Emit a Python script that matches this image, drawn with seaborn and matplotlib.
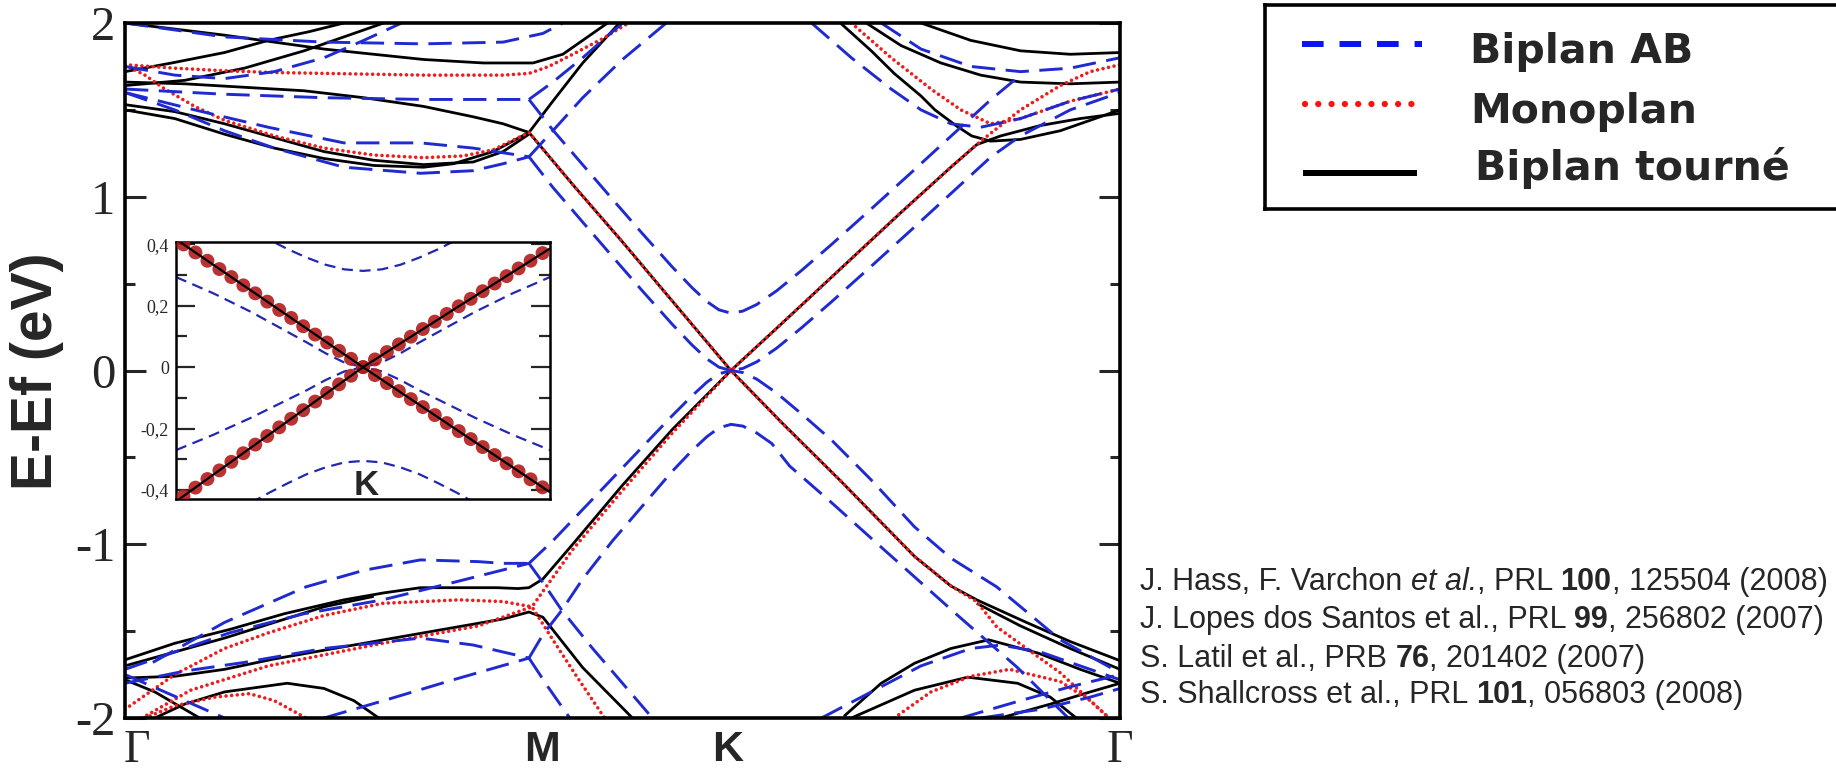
import numpy as np
import pandas as pd
import matplotlib
matplotlib.use("Agg")
import matplotlib.pyplot as plt
from matplotlib.ticker import FixedLocator, MultipleLocator
import seaborn as sns

sns.set_theme(style="white")
plt.rcParams['font.family'] = ['DejaVu Sans']

W, H = 1836, 772

# ---------------- path / ticks ----------------
K_TICKS = [0.012, 0.419, 0.606, 1.0]
K_LABELS = ["Γ", "M", "K", "Γ"]
Y_TICKS = [-2, -1, 0, 1, 2]

# ---------------- Biplan tourné (black) ----------------
tw_c1 = ([0, 0.06, 0.12, 0.18, 0.24, 0.30, 0.35, 0.38, 0.406, 0.45, 0.5, 0.55, 0.609, 0.66, 0.72, 0.78, 0.83, 0.856, 0.88, 0.92, 0.96, 1.0],
         [1.66, 1.65, 1.63, 1.61, 1.57, 1.52, 1.46, 1.42, 1.37, 1.07, 0.74, 0.40, 0.0, 0.27, 0.59, 0.91, 1.17, 1.30, 1.35, 1.41, 1.45, 1.48])
tw_c2 = ([0, 0.05, 0.1, 0.15, 0.2, 0.25, 0.3, 0.33, 0.37, 0.406, 0.43, 0.46, 0.497],
         [1.50, 1.45, 1.36, 1.28, 1.22, 1.18, 1.17, 1.19, 1.26, 1.37, 1.55, 1.77, 2.0])
tw_c3 = ([0, 0.05, 0.1, 0.15, 0.2, 0.25, 0.3, 0.35, 0.38, 0.406],
         [1.53, 1.49, 1.42, 1.34, 1.26, 1.21, 1.185, 1.2, 1.26, 1.36])
tw_c4 = ([0, 0.1, 0.2, 0.3, 0.36, 0.41, 0.44, 0.46, 0.485],
         [2.0, 1.93, 1.85, 1.79, 1.77, 1.77, 1.82, 1.9, 2.0])
tw_c5 = ([0, 0.06, 0.12, 0.18, 0.22, 0.26],
         [1.64, 1.67, 1.74, 1.84, 1.92, 2.0])
tw_c6 = ([0, 0.047, 0.1, 0.144, 0.185, 0.22],
         [1.72, 1.77, 1.83, 1.90, 1.95, 2.0])
tw_v1 = ([0, 0.05, 0.1055, 0.16, 0.22, 0.26, 0.297, 0.34, 0.374, 0.395, 0.406, 0.42, 0.45, 0.5, 0.55, 0.609, 0.66, 0.72, 0.7935, 0.83, 0.856, 0.906, 0.95, 1.0],
         [-1.665, -1.57, -1.49, -1.40, -1.32, -1.28, -1.25, -1.25, -1.25, -1.255, -1.25, -1.2, -1.0, -0.66, -0.34, 0.0, -0.3, -0.64, -1.07, -1.24, -1.32, -1.45, -1.56, -1.67])
tw_v2 = ([0, 0.05, 0.1, 0.15, 0.2, 0.26, 0.3, 0.35, 0.38, 0.406, 0.42, 0.46, 0.51],
         [-1.77, -1.76, -1.72, -1.66, -1.61, -1.55, -1.51, -1.46, -1.43, -1.39, -1.42, -1.71, -2.0])
tw_v3 = ([0, 0.05, 0.1, 0.15, 0.2, 0.25],
         [-1.70, -1.62, -1.54, -1.45, -1.36, -1.30])
tw_v4 = ([0, 0.03, 0.06, 0.075], [-1.78, -1.85, -1.95, -2.0])
tw_arch_l = ([0.03, 0.06, 0.1, 0.163, 0.2, 0.23, 0.255],
             [-2.0, -1.92, -1.85, -1.80, -1.83, -1.9, -2.0])
tw_v_r2 = ([0.856, 0.9, 0.95, 1.0], [-1.34, -1.47, -1.6, -1.72])
tw_arch_r1 = ([0.7226, 0.76, 0.7935, 0.83, 0.868, 0.918, 0.96, 1.0],
              [-1.99, -1.8, -1.685, -1.6, -1.55, -1.627, -1.72, -1.8])
tw_arch_r2 = ([0.73, 0.7935, 0.847, 0.897, 0.93, 0.956],
              [-2.0, -1.84, -1.765, -1.80, -1.88, -2.0])
tw_rise_r = ([0.88, 0.93, 0.97, 1.0], [-2.0, -1.92, -1.85, -1.8])
tw_ur1 = ([0.719, 0.75, 0.773, 0.8, 0.814, 0.835, 0.851, 0.87, 0.9, 0.94, 0.97, 1.0],
          [2.0, 1.84, 1.71, 1.58, 1.50, 1.41, 1.35, 1.32, 1.33, 1.38, 1.44, 1.50])
tw_ur2 = ([0.745, 0.78, 0.82, 0.86, 0.9, 0.95, 1.0],
          [2.0, 1.87, 1.77, 1.70, 1.66, 1.65, 1.66])
tw_ur3 = ([0.8, 0.85, 0.9, 0.95, 1.0], [2.0, 1.9, 1.84, 1.82, 1.83])

# ---------------- Monoplan (red) ----------------
mo_c1 = ([0, 0.05, 0.1, 0.15, 0.2, 0.25, 0.3, 0.35, 0.38, 0.406, 0.426, 0.45, 0.48, 0.506],
         [1.76, 1.74, 1.725, 1.715, 1.71, 1.705, 1.70, 1.70, 1.70, 1.71, 1.75, 1.82, 1.91, 2.0])
mo_c2 = ([0, 0.02, 0.04, 0.07, 0.1, 0.15, 0.2, 0.25, 0.3, 0.34, 0.37, 0.406, 0.45, 0.5, 0.55, 0.609, 0.66, 0.72, 0.78, 0.83, 0.86, 0.9, 0.94, 0.97, 1.0],
         [1.76, 1.70, 1.62, 1.52, 1.44, 1.35, 1.28, 1.24, 1.225, 1.235, 1.27, 1.37, 1.07, 0.74, 0.40, 0.0, 0.27, 0.59, 0.91, 1.17, 1.32, 1.50, 1.64, 1.72, 1.76])
mo_c3 = ([0.73, 0.77, 0.81, 0.84, 0.87, 0.9, 0.95, 1.0],
         [2.0, 1.8, 1.62, 1.5, 1.42, 1.45, 1.55, 1.62])
mo_v1 = ([0.017, 0.066, 0.144, 0.259, 0.355, 0.409, 0.45, 0.5, 0.55, 0.609, 0.66, 0.72, 0.7935, 0.83, 0.856, 0.876, 0.94, 0.989],
         [-2.0, -1.84, -1.70, -1.57, -1.47, -1.36, -1.03, -0.69, -0.36, 0.0, -0.3, -0.64, -1.07, -1.24, -1.33, -1.475, -1.74, -2.0])
mo_v2 = ([0.0, 0.05, 0.1, 0.144, 0.2, 0.259, 0.336, 0.38, 0.409, 0.43, 0.455, 0.482],
         [-1.95, -1.75, -1.6, -1.51, -1.41, -1.34, -1.32, -1.33, -1.36, -1.55, -1.77, -2.0])
mo_arch_l = ([0.02, 0.05, 0.09, 0.125, 0.15, 0.182], [-2.0, -1.93, -1.88, -1.86, -1.9, -2.0])
mo_arch_r = ([0.773, 0.81, 0.85, 0.889, 0.94, 0.97, 0.989], [-2.0, -1.85, -1.76, -1.72, -1.79, -1.9, -2.0])

# ---------------- Biplan AB (blue) ----------------
ab_lowc = ([0.406, 0.43, 0.46, 0.49, 0.52, 0.55, 0.57, 0.585, 0.597, 0.609, 0.621, 0.635, 0.655, 0.68, 0.71, 0.75, 0.79, 0.83, 0.87, 0.9, 0.95, 1.0],
           [1.23, 1.054, 0.854, 0.655, 0.458, 0.266, 0.146, 0.066, 0.019, 0.0, 0.012, 0.05, 0.129, 0.246, 0.395, 0.60, 0.808, 1.018, 1.228, 1.35, 1.5, 1.6])
ab_splitc = ([0.406, 0.43, 0.46, 0.49, 0.52, 0.55, 0.57, 0.585, 0.597, 0.609, 0.621, 0.635, 0.655, 0.68, 0.71, 0.75, 0.79, 0.83, 0.87, 0.9],
             [1.56, 1.384, 1.184, 0.985, 0.788, 0.596, 0.476, 0.396, 0.349, 0.33, 0.342, 0.38, 0.459, 0.576, 0.725, 0.93, 1.138, 1.348, 1.558, 1.7])
ab_c_b2 = ([0.406, 0.43, 0.46, 0.5, 0.544], [1.23, 1.38, 1.57, 1.79, 2.0])
ab_c_b4 = ([0.406, 0.43, 0.46, 0.5], [1.56, 1.66, 1.8, 2.0])
ab_lowv = ([0.406, 0.43, 0.46, 0.49, 0.52, 0.55, 0.57, 0.585, 0.597, 0.609, 0.621, 0.635, 0.655, 0.68, 0.71, 0.75, 0.7935, 0.83, 0.876, 0.94, 1.0],
           [-1.11, -0.98, -0.80, -0.62, -0.44, -0.26, -0.145, -0.066, -0.019, 0.0, -0.012, -0.05, -0.13, -0.25, -0.40, -0.63, -0.90, -1.08, -1.245, -1.55, -1.74])
ab_splitv = ([0.406, 0.42, 0.439, 0.46, 0.49, 0.52, 0.55, 0.57, 0.585, 0.597, 0.609, 0.621, 0.635, 0.65, 0.668, 0.71, 0.752, 0.79, 0.835, 0.897, 0.948],
             [-1.655, -1.52, -1.38, -1.20, -0.98, -0.78, -0.58, -0.46, -0.38, -0.33, -0.31, -0.32, -0.36, -0.42, -0.55, -0.76, -0.976, -1.17, -1.40, -1.71, -2.0])
ab_v_b2 = ([0.406, 0.42, 0.439, 0.47, 0.5, 0.53], [-1.11, -1.22, -1.38, -1.6, -1.8, -2.0])
ab_v_b4 = ([0.406, 0.425, 0.447], [-1.655, -1.82, -2.0])
ab_d1 = ([0.028, 0.1, 0.182, 0.24, 0.297, 0.355, 0.38, 0.406], [-1.68, -1.45, -1.245, -1.15, -1.09, -1.10, -1.11, -1.11])
ab_d2 = ([0, 0.05, 0.105, 0.18, 0.259, 0.33, 0.406], [-1.72, -1.62, -1.51, -1.40, -1.32, -1.22, -1.11])
ab_d3 = ([0.0, 0.06, 0.12, 0.2, 0.297, 0.35, 0.406], [-1.8, -1.73, -1.68, -1.6, -1.54, -1.58, -1.655])
ab_d4 = ([0.2, 0.26, 0.33, 0.406], [-2.0, -1.9, -1.78, -1.655])
ab_d5 = ([0, 0.04, 0.08, 0.1], [-1.75, -1.85, -1.95, -2.0])
ab_u_low = ([0, 0.05, 0.1, 0.15, 0.22, 0.297, 0.35, 0.38, 0.406], [1.60, 1.5, 1.38, 1.28, 1.17, 1.135, 1.15, 1.19, 1.23])
ab_u_mid = ([0, 0.07, 0.144, 0.22, 0.297, 0.35, 0.406], [1.60, 1.50, 1.40, 1.31, 1.31, 1.28, 1.23])
ab_u_flat = ([0, 0.1, 0.2, 0.3, 0.406], [1.62, 1.59, 1.57, 1.56, 1.56])
ab_u_top = ([0, 0.1, 0.2, 0.3, 0.38, 0.42, 0.44], [2.0, 1.92, 1.89, 1.88, 1.89, 1.94, 2.0])
ab_u_diag = ([0.0, 0.05, 0.1, 0.15, 0.2, 0.24, 0.278], [1.75, 1.7, 1.68, 1.72, 1.8, 1.9, 2.0])
ab_ur1 = ([0.69, 0.73, 0.77, 0.8, 0.83, 0.86, 0.9, 0.95, 1.0], [2.0, 1.8, 1.62, 1.5, 1.42, 1.4, 1.45, 1.55, 1.62])
ab_ur2 = ([0.76, 0.8, 0.85, 0.9, 0.95, 1.0], [2.0, 1.85, 1.75, 1.72, 1.74, 1.8])
ab_lr_arch = ([0.7, 0.75, 0.8, 0.85, 0.88, 0.92, 0.96, 1.0], [-2.0, -1.85, -1.7, -1.6, -1.58, -1.62, -1.7, -1.78])
ab_lr_low1 = ([0.84, 0.9, 0.95, 1.0], [-2.0, -1.9, -1.82, -1.75])
ab_lr_low2 = ([0.86, 0.92, 0.97, 1.0], [-2.0, -1.95, -1.88, -1.83])

TW_BANDS = [tw_c1, tw_c2, tw_c3, tw_c4, tw_c5, tw_c6, tw_v1, tw_v2, tw_v3, tw_v4, tw_arch_l,
            tw_v_r2, tw_arch_r1, tw_arch_r2, tw_rise_r, tw_ur1, tw_ur2, tw_ur3]
MO_BANDS = [mo_c1, mo_c2, mo_c3, mo_v1, mo_v2, mo_arch_l, mo_arch_r]
AB_BANDS = [ab_lowc, ab_splitc, ab_c_b2, ab_c_b4, ab_lowv, ab_splitv, ab_v_b2, ab_v_b4,
            ab_d1, ab_d2, ab_d3, ab_d4, ab_d5, ab_u_low, ab_u_mid, ab_u_flat, ab_u_top, ab_u_diag,
            ab_ur1, ab_ur2, ab_lr_arch, ab_lr_low1, ab_lr_low2]

# ---------------- inset (around K) ----------------
in_q = [-0.96, -0.896, -0.832, -0.768, -0.704, -0.64, -0.576, -0.512, -0.448, -0.384, -0.32, -0.256, -0.192, -0.128, -0.064, 0.0,
        0.064, 0.128, 0.192, 0.256, 0.32, 0.384, 0.448, 0.512, 0.576, 0.64, 0.704, 0.768, 0.832, 0.896, 0.96]
in_mono_a = [0.399, 0.373, 0.346, 0.319, 0.293, 0.266, 0.240, 0.213, 0.186, 0.160, 0.133, 0.106, 0.080, 0.053, 0.027, 0.0,
             -0.026, -0.052, -0.078, -0.104, -0.130, -0.156, -0.182, -0.208, -0.234, -0.260, -0.286, -0.313, -0.339, -0.365, -0.391]
in_mono_b = [-0.420, -0.392, -0.364, -0.336, -0.308, -0.280, -0.252, -0.224, -0.196, -0.168, -0.140, -0.112, -0.084, -0.056, -0.028, 0.0,
             0.025, 0.049, 0.074, 0.099, 0.124, 0.148, 0.173, 0.198, 0.222, 0.247, 0.272, 0.296, 0.321, 0.346, 0.371]
in_tw_a = ([-1.0, 0.0, 1.0], [0.416, 0.0, -0.407])
in_tw_b = ([-1.0, 0.0, 1.0], [-0.437, 0.0, 0.386])
in_ab_splitc = ([-0.55, -0.5, -0.4, -0.3, -0.2, -0.1, 0, 0.1, 0.2, 0.3, 0.4, 0.5, 0.55, 0.6],
                [0.431, 0.414, 0.383, 0.356, 0.333, 0.318, 0.313, 0.318, 0.333, 0.356, 0.383, 0.414, 0.431, 0.45])
in_ab_splitv = ([-0.6, -0.5, -0.4, -0.3, -0.2, -0.1, 0, 0.1, 0.2, 0.3, 0.4, 0.5, 0.6],
                [-0.442, -0.408, -0.377, -0.348, -0.326, -0.310, -0.305, -0.310, -0.326, -0.348, -0.377, -0.408, -0.442])
in_ab_lowc = ([-1.0, -0.8, -0.6, -0.45, -0.3, -0.2, -0.1, 0, 0.1, 0.2, 0.3, 0.45, 0.6, 0.8, 1.0],
              [0.293, 0.24, 0.18, 0.13, 0.08, 0.045, 0.015, 0.0, 0.015, 0.045, 0.08, 0.13, 0.18, 0.24, 0.293])
in_ab_lowv = ([-1.0, -0.8, -0.6, -0.45, -0.3, -0.2, -0.1, 0, 0.1, 0.2, 0.3, 0.45, 0.6, 0.8, 1.0],
              [-0.27, -0.22, -0.165, -0.12, -0.075, -0.042, -0.014, 0.0, -0.014, -0.042, -0.075, -0.12, -0.165, -0.22, -0.27])
IN_YTICKS = [-0.4, -0.2, 0.0, 0.2, 0.4]
IN_YLABELS = ["-0,4", "-0,2", "0", "0,2", "0,4"]

LEGEND_LABELS = ["Biplan AB", "Monoplan", "Biplan tourné"]
REFS = [
    [("J. Hass, F. Varchon ", "normal", "normal"), ("et al.", "normal", "italic"), (", PRL ", "normal", "normal"),
     ("100", "bold", "normal"), (", 125504 (2008)", "normal", "normal")],
    [("J. Lopes dos Santos et al., PRL ", "normal", "normal"), ("99", "bold", "normal"), (", 256802 (2007)", "normal", "normal")],
    [("S. Latil et al., PRB ", "normal", "normal"), ("76", "bold", "normal"), (", 201402 (2007)", "normal", "normal")],
    [("S. Shallcross et al., PRL ", "normal", "normal"), ("101", "bold", "normal"), (", 056803 (2008)", "normal", "normal")],
]

BLUE = "#1f2ad0"
RED = "#ee1c1c"
BLACK = "#000000"
IN_BLUE = "#2228b0"
IN_RED = "#b31b1b"


def bands_df(bands):
    rows = []
    for i, (ks, es) in enumerate(bands):
        for j, (k, e) in enumerate(zip(ks, es)):
            rows.append((i, j, k, e))
    return pd.DataFrame(rows, columns=["band", "order", "k", "E"])


def draw(ax, bands, color, lw, ls, z, cap="butt"):
    n0 = len(ax.lines)
    sns.lineplot(data=bands_df(bands), x="k", y="E", units="band", estimator=None, sort=False,
                 color=color, lw=lw, ax=ax, legend=False, zorder=z)
    for ln in ax.lines[n0:]:
        ln.set_linestyle(ls)
        ln.set_dash_capstyle(cap)
        ln.set_solid_capstyle("butt")
        ln.set_zorder(z)


fig = plt.figure(figsize=(W / 100, H / 100), dpi=100)
fig.patch.set_facecolor("white")

# ---------------- main axes ----------------
ax = fig.add_axes([125 / W, 1 - 718 / H, 995 / W, 695 / H])
ax.set_facecolor("white")
draw(ax, TW_BANDS, BLACK, 2.0, "-", 3)
draw(ax, MO_BANDS, RED, 2.6, (0, (0.01, 1.55)), 4, cap="round")
draw(ax, AB_BANDS, BLUE, 2.1, (0, (8, 3.6)), 5)
ax.set_xlim(0, 1)
ax.set_ylim(-2, 2)
ax.set_xlabel("")
ax.set_ylabel("")
for s in ax.spines.values():
    s.set_linewidth(2.6)
    s.set_color("black")
    s.set_zorder(10)
ax.xaxis.set_major_locator(FixedLocator(K_TICKS))
ax.set_xticklabels(K_LABELS)
ax.yaxis.set_major_locator(FixedLocator(Y_TICKS))
ax.yaxis.set_minor_locator(MultipleLocator(0.5))
ax.set_yticklabels([str(v) for v in Y_TICKS])
ax.tick_params(axis="x", which="both", length=0, pad=8.5)
ax.tick_params(axis="y", which="major", direction="in", length=15, width=2.2, left=True, right=True, pad=7)
ax.tick_params(axis="y", which="minor", direction="in", length=7.5, width=2.2, left=True, right=True)
for t in ax.get_yticklabels():
    t.set_fontfamily("Liberation Serif")
    t.set_fontsize(35)
for t, lab in zip(ax.get_xticklabels(), K_LABELS):
    if lab == "Γ":
        t.set_fontfamily("Liberation Serif")
        t.set_fontsize(33)
    else:
        t.set_fontfamily("Liberation Sans")
        t.set_fontweight("bold")
        t.set_fontsize(31)

fig.text(37 / W, 1 - 371 / H, "E-Ef (eV)", rotation=90, fontsize=41, fontweight="bold",
         family="Liberation Sans", ha="center", va="center")

# ---------------- inset ----------------
ia = fig.add_axes([176 / W, 1 - 499 / H, 374 / W, 257 / H])
ia.set_facecolor("white")
ia.set_zorder(20)
draw(ia, [in_ab_splitc, in_ab_splitv, in_ab_lowc, in_ab_lowv], IN_BLUE, 1.6, (0, (5, 3)), 2)
sns.scatterplot(x=in_q + in_q, y=in_mono_a + in_mono_b, ax=ia, s=100, color=IN_RED, edgecolor="none",
                alpha=0.9, zorder=3, legend=False)
draw(ia, [in_tw_a, in_tw_b], BLACK, 1.6, "-", 4)
ia.set_xlim(-1, 1)
ia.set_ylim(-0.429, 0.407)
ia.set_xlabel("")
ia.set_ylabel("")
for s in ia.spines.values():
    s.set_linewidth(1.8)
    s.set_color("black")
ia.set_xticks([])
ia.yaxis.set_major_locator(FixedLocator(IN_YTICKS))
ia.yaxis.set_minor_locator(FixedLocator([-0.3, -0.1, 0.1, 0.3]))
ia.set_yticklabels(IN_YLABELS)
ia.tick_params(axis="y", which="major", direction="in", length=14, width=1.6, left=True, right=True, pad=5,
               labelsize=13)
ia.tick_params(axis="y", which="minor", direction="in", length=8, width=1.6, left=True, right=True)
for t in ia.get_yticklabels():
    t.set_fontfamily("Liberation Serif")
ia.text(0.016, -0.384, "K", fontsize=25, fontweight="bold", family="Liberation Sans",
        ha="center", va="center", zorder=6)

# ---------------- legend box ----------------
lax = fig.add_axes([1265 / W, 1 - 209 / H, (1850 - 1265) / W, 204 / H])
lax.set_xlim(1265, 1850)
lax.set_ylim(209, 5)
lax.set_xticks([])
lax.set_yticks([])
lax.set_facecolor("white")
for s in lax.spines.values():
    s.set_linewidth(2.6)
    s.set_color("black")
lax.plot([1302, 1422], [44, 44], color="#0a14f0", lw=4.3, solid_capstyle="butt",
         linestyle=(0, (21.7 / 6, 16 / 6)), dash_capstyle="butt")
lax.scatter([1305 + 13.3 * i for i in range(9)], [104] * 9, s=20, color="#ff1010", edgecolor="none")
lax.plot([1303, 1417], [173, 173], color="black", lw=4.3, solid_capstyle="butt")
for lab, (x, y) in zip(LEGEND_LABELS, [(1470, 63), (1470, 123), (1475, 180)]):
    lax.text(x, y, lab, fontsize=29.5, fontweight="bold", family="DejaVu Sans", va="baseline", ha="left")

# ---------------- references ----------------
fig.canvas.draw()
renderer = fig.canvas.get_renderer()


def adv(txt, weight, style, size):
    def w(s):
        t = fig.text(0, 0, s, fontsize=size, fontweight=weight, fontstyle=style, family="Liberation Sans")
        bb = t.get_window_extent(renderer)
        t.remove()
        return bb.width
    return w("I" + txt + "I") - w("II")


ref_size = 22
for li, parts in enumerate(REFS):
    x = 1140.0
    ybase = [590, 628, 667, 703][li]
    for txt, wgt, sty in parts:
        fig.text(x / W, 1 - ybase / H, txt, fontsize=ref_size, fontweight=wgt, fontstyle=sty,
                 family="Liberation Sans", va="baseline", ha="left")
        x += adv(txt, wgt, sty, ref_size)

fig.savefig("out.png", dpi=100, facecolor="white")
